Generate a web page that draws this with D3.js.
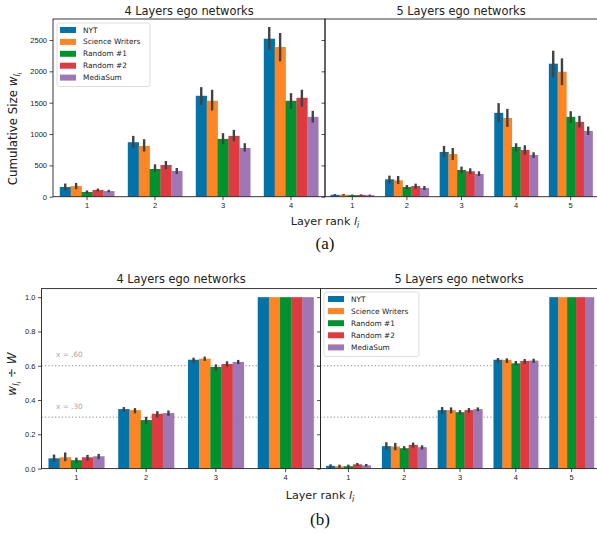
<!DOCTYPE html>
<html>
<head>
<meta charset="utf-8">
<script src="https://cdn.jsdelivr.net/npm/d3@7"></script>
<style>
  body { margin: 0; background: #fff; }
  svg { display: block; font-family: "DejaVu Sans", sans-serif; }
  .tick text { font-size: 7.5px; fill: #222; }
  .domain { display: none; }
</style>
</head>
<body>
<script>
// groups and layers
const seriesNames = ["NYT", "Science Writers", "Random #1", "Random #2", "MediaSum"];
const layers4 = ["1", "2", "3", "4"];
const layers5 = ["1", "2", "3", "4", "5"];
const colors = ["#0173a8", "#fd8524", "#00922f", "#dd3b3f", "#a077b5"];

// (a) cumulative size, 4 layers (rows = series)
const size4Mean = [[155, 869, 1610, 2521], [170, 810, 1530, 2388], [75, 442, 922, 1530], [107, 506, 970, 1578], [90, 410, 778, 1274]];
const size4Lo = [[100, 775, 1466, 2345], [120, 720, 1375, 2159], [50, 394, 837, 1402], [85, 437, 885, 1439], [70, 362, 720, 1183]];
const size4Hi = [[210, 970, 1748, 2708], [220, 917, 1706, 2612], [100, 517, 1013, 1652], [130, 570, 1066, 1706], [110, 458, 853, 1370]];

// (a) cumulative size, 5 layers
const size5Mean = [[30, 277, 714, 1338, 2122], [32, 261, 682, 1258, 1994], [25, 155, 426, 794, 1274], [28, 170, 405, 746, 1194], [25, 139, 362, 666, 1050]];
const size5Lo = [[18, 213, 629, 1194, 1903], [20, 202, 586, 1114, 1780], [15, 122, 378, 720, 1178], [18, 128, 362, 672, 1103], [15, 107, 330, 618, 986]];
const size5Hi = [[42, 336, 810, 1493, 2329], [44, 330, 778, 1402, 2207], [35, 186, 480, 853, 1364], [38, 208, 453, 821, 1290], [35, 170, 405, 709, 1119]];

// (b) fraction of W, 4 layers
const frac4Mean = [[0.060, 0.347, 0.635, 1], [0.066, 0.341, 0.641, 1], [0.049, 0.283, 0.593, 1], [0.066, 0.320, 0.610, 1], [0.072, 0.324, 0.622, 1]];
const frac4Lo = [[0.040, 0.331, 0.618, 1], [0.043, 0.322, 0.628, 1], [0.035, 0.261, 0.571, 1], [0.047, 0.298, 0.595, 1], [0.055, 0.308, 0.610, 1]];
const frac4Hi = [[0.082, 0.359, 0.647, 1], [0.094, 0.353, 0.653, 1], [0.064, 0.302, 0.608, 1], [0.080, 0.335, 0.626, 1], [0.086, 0.339, 0.634, 1]];

// (b) fraction of W, 5 layers
const frac5Mean = [[0.016, 0.131, 0.341, 0.635, 1], [0.014, 0.129, 0.341, 0.634, 1], [0.014, 0.119, 0.329, 0.614, 1], [0.025, 0.138, 0.341, 0.628, 1], [0.019, 0.125, 0.347, 0.630, 1]];
const frac5Lo = [[0.006, 0.111, 0.320, 0.618, 1], [0.004, 0.107, 0.322, 0.616, 1], [0.004, 0.107, 0.316, 0.604, 1], [0.016, 0.123, 0.326, 0.612, 1], [0.012, 0.111, 0.335, 0.616, 1]];
const frac5Hi = [[0.025, 0.154, 0.359, 0.645, 1], [0.023, 0.150, 0.357, 0.643, 1], [0.023, 0.131, 0.341, 0.628, 1], [0.033, 0.152, 0.353, 0.639, 1], [0.027, 0.136, 0.357, 0.641, 1]];

const sizeTicks = [0, 500, 1000, 1500, 2000, 2500];
const fracTicks = [0, 0.2, 0.4, 0.6, 0.8, 1.0];
const refLines = [0.6, 0.3];
const refLabels = ["x = ,60", "x = ,30"];

const W = 597, H = 534;
const svg = d3.select("body").append("svg").attr("width", W).attr("height", H);

function panel(x0, x1, y, cats, mean, lo, hi, showLabels, ticks, fmt) {
  const g = svg.append("g");
  const x = d3.scaleBand().domain(cats).range([x0, x1]).paddingInner(0.2).paddingOuter(0.1);
  const xs = d3.scaleBand().domain(d3.range(seriesNames.length)).range([0, x.bandwidth()]);
  const gb = g.append("g");
  mean.forEach((row, s) => {
    gb.selectAll(null).data(row).enter().append("rect")
      .attr("x", (d, i) => x(cats[i]) + xs(s))
      .attr("width", xs.bandwidth() + 0.3)
      .attr("y", d => y(d))
      .attr("height", d => y(0) - y(d))
      .attr("fill", colors[s]);
  });
  mean.forEach((row, s) => {
    gb.selectAll(null).data(row.map((d, i) => i).filter(i => hi[s][i] > lo[s][i])).enter().append("line")
      .attr("x1", i => x(cats[i]) + xs(s) + xs.bandwidth() / 2)
      .attr("x2", i => x(cats[i]) + xs(s) + xs.bandwidth() / 2)
      .attr("y1", i => y(lo[s][i]))
      .attr("y2", i => y(hi[s][i]))
      .attr("stroke", "#424242").attr("stroke-width", 2.4);
  });
  // axes
  g.append("g").attr("transform", `translate(0,${y(0)})`)
    .call(d3.axisBottom(x).tickSize(3.5).tickPadding(2.5));
  g.append("g").attr("transform", `translate(${x0},0)`)
    .call(d3.axisLeft(y).tickValues(ticks).tickFormat(showLabels ? fmt : "").tickSize(3.5).tickPadding(2.5));
  g.selectAll(".tick line").attr("stroke", "#222").attr("stroke-width", 0.8);
  // spines
  const [yb, yt] = y.range();
  g.append("rect").attr("x", x0).attr("y", yt).attr("width", x1 - x0).attr("height", yb - yt)
    .attr("fill", "none").attr("stroke", "#222").attr("stroke-width", 0.9);
  return { g, x };
}

function legend(lx, ly, w, rowH, padX) {
  const g = svg.append("g");
  g.append("rect").attr("x", lx).attr("y", ly).attr("width", w).attr("height", rowH * 5 + 4)
    .attr("rx", 2).attr("fill", "#fff").attr("fill-opacity", 0.85).attr("stroke", "#d4d4d4").attr("stroke-width", 0.8);
  seriesNames.forEach((n, i) => {
    const cy = ly + 7 + i * rowH;
    g.append("rect").attr("x", lx + padX).attr("y", cy - 3).attr("width", 16).attr("height", 6).attr("fill", colors[i]);
    g.append("text").attr("x", lx + padX + 23).attr("y", cy).attr("dy", "0.35em")
      .attr("font-size", 7.4).attr("fill", "#222").text(n);
  });
}

function title(cx, cy, t) {
  svg.append("text").attr("x", cx).attr("y", cy).attr("dy", "0.35em").attr("text-anchor", "middle")
    .attr("font-size", 11.4).attr("fill", "#222").text(t);
}

function xlabel(cx, cy) {
  const t = svg.append("text").attr("x", cx).attr("y", cy).attr("dy", "0.35em").attr("text-anchor", "middle")
    .attr("font-size", 11.2).attr("fill", "#222");
  t.append("tspan").text("Layer rank ");
  t.append("tspan").attr("font-style", "italic").text("l");
  t.append("tspan").attr("font-style", "italic").attr("font-size", 8).attr("dy", 2.5).text("i");
}

// ---------- (a) ----------
const yTop = d3.scaleLinear().domain([0, 2835]).range([196.7, 19]);
panel(53, 325, yTop, layers4, size4Mean, size4Lo, size4Hi, true, sizeTicks, d3.format("d"));
panel(325, 598, yTop, layers5, size5Mean, size5Lo, size5Hi, false, sizeTicks, d3.format("d"));
legend(57, 23, 93, 11.9, 3);
title(189, 11, "4 Layers ego networks");
title(461, 11, "5 Layers ego networks");
xlabel(325, 221.5);

const yl1 = svg.append("text").attr("transform", "translate(13,129) rotate(-90)").attr("text-anchor", "middle")
  .attr("dy", "0.35em").attr("font-size", 11.8).attr("fill", "#222");
yl1.append("tspan").text("Cumulative Size ");
yl1.append("tspan").attr("font-style", "italic").text("w");
yl1.append("tspan").attr("font-style", "italic").attr("font-size", 8).attr("dy", 2.8).text("l");
yl1.append("tspan").attr("font-style", "italic").attr("font-size", 6).attr("dy", 1.6).text("i");

svg.append("text").attr("x", 325).attr("y", 243).attr("dy", "0.35em").attr("text-anchor", "middle")
  .attr("font-family", "Liberation Serif, serif").attr("font-size", 17).attr("fill", "#111").text("(a)");

// ---------- (b) ----------
const yBot = d3.scaleLinear().domain([0, 1.05]).range([468.6, 288.6]);
// dotted reference lines behind the bars
const gRef = svg.append("g");
gRef.selectAll("line").data(refLines).enter().append("line")
  .attr("x1", 41.5).attr("x2", 600).attr("y1", d => yBot(d)).attr("y2", d => yBot(d))
  .attr("stroke", "#888").attr("stroke-width", 1).attr("stroke-dasharray", "1.2,2.2");
gRef.selectAll("text").data(refLines).enter().append("text")
  .attr("x", 56).attr("y", d => yBot(d) - 11).attr("dy", "0.35em")
  .attr("font-size", 7.3).attr("fill", "#a8a8a8").text((d, i) => refLabels[i]);

panel(41.5, 320.5, yBot, layers4, frac4Mean, frac4Lo, frac4Hi, true, fracTicks, d3.format(".1f"));
panel(320.5, 599.5, yBot, layers5, frac5Mean, frac5Lo, frac5Hi, false, fracTicks, d3.format(".1f"));
legend(324, 292, 95, 12.1, 4);
title(181, 279, "4 Layers ego networks");
title(459, 279, "5 Layers ego networks");
xlabel(320, 495.5);

const yl2 = svg.append("text").attr("transform", "translate(12,374) rotate(-90)").attr("text-anchor", "middle")
  .attr("dy", "0.35em").attr("font-size", 12).attr("fill", "#222");
yl2.append("tspan").attr("font-style", "italic").text("w");
yl2.append("tspan").attr("font-style", "italic").attr("font-size", 8).attr("dy", 2.8).text("l");
yl2.append("tspan").attr("font-style", "italic").attr("font-size", 6).attr("dy", 1.6).text("i");
yl2.append("tspan").attr("dy", -4.4).text(" \u00f7 ");
yl2.append("tspan").attr("font-style", "italic").text("W");

svg.append("text").attr("x", 320).attr("y", 519).attr("dy", "0.35em").attr("text-anchor", "middle")
  .attr("font-family", "Liberation Serif, serif").attr("font-size", 17).attr("fill", "#111").text("(b)");
</script>
</body>
</html>
